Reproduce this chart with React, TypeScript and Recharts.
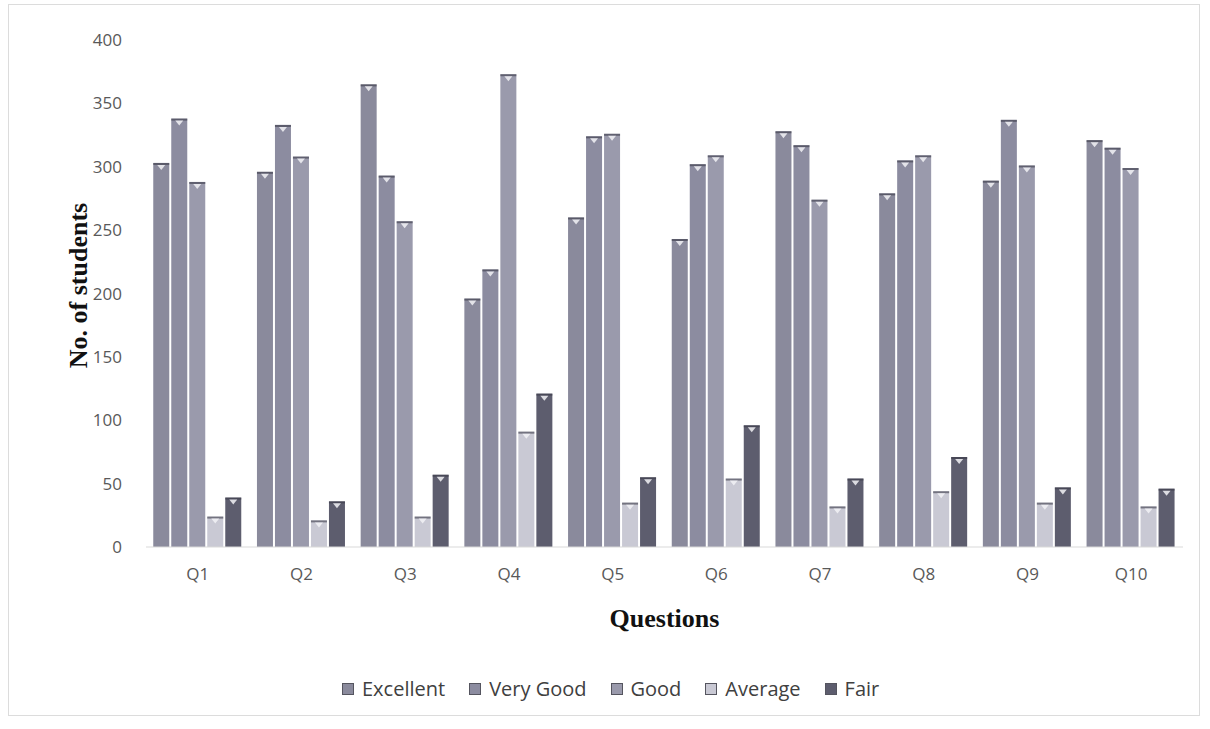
import React from 'react'
import { BarChart, Bar, XAxis, YAxis, Legend } from 'recharts'

const categories = ['Q1', 'Q2', 'Q3', 'Q4', 'Q5', 'Q6', 'Q7', 'Q8', 'Q9', 'Q10']
const excellent = [303, 296, 365, 196, 260, 243, 328, 279, 289, 321]
const veryGood = [338, 333, 293, 219, 324, 302, 317, 305, 337, 315]
const good = [288, 308, 257, 373, 326, 309, 274, 309, 301, 299]
const average = [24, 21, 24, 91, 35, 54, 32, 44, 35, 32]
const fair = [39, 36, 57, 121, 55, 96, 54, 71, 47, 46]
const yTicks = [0, 50, 100, 150, 200, 250, 300, 350, 400]

const series = [
  { key: 'excellent', name: 'Excellent', color: '#8a8a9c' },
  { key: 'veryGood', name: 'Very Good', color: '#8c8ca0' },
  { key: 'good', name: 'Good', color: '#9a9aac' },
  { key: 'average', name: 'Average', color: '#c9c9d4' },
  { key: 'fair', name: 'Fair', color: '#5d5d6e' },
]

const data = categories.map((name, i) => ({
  name,
  excellent: excellent[i],
  veryGood: veryGood[i],
  good: good[i],
  average: average[i],
  fair: fair[i],
}))

const tickStyle = { fill: '#595959', fontSize: 17, fontFamily: 'Open Sans' }
const titleStyle = { fill: '#111', fontSize: 26, fontWeight: 700, fontFamily: 'Liberation Serif' }

// bar with the little "3D" cap that the scanned excel chart shows
function CappedBar(props: any) {
  const { x, y, width, height, fill } = props
  if (!height || height <= 0) return null
  const cx = x + width / 2
  return (
    <g>
      <rect x={x} y={y} width={width} height={height} fill={fill} />
      <rect x={x} y={y} width={width} height={2} fill="#3a3a48" opacity={0.6} />
      <polygon
        points={`${cx - 4},${y + 2} ${cx + 4},${y + 2} ${cx},${y + 7}`}
        fill="#f2f2f6"
        opacity={0.85}
      />
    </g>
  )
}

function LegendContent() {
  return (
    <div style={{ display: 'flex', marginLeft: 342, alignItems: 'center' }}>
      {series.map((s) => (
        <div key={s.key} style={{ display: 'flex', alignItems: 'center', marginRight: 24 }}>
          <span
            style={{
              display: 'inline-block',
              width: 10,
              height: 10,
              background: s.color,
              border: '1px solid #55555f',
              marginRight: 8,
            }}
          />
          <span style={{ fontFamily: 'Open Sans', fontSize: 20, color: '#404040' }}>{s.name}</span>
        </div>
      ))}
    </div>
  )
}

export default function App() {
  return (
    <div style={{ position: 'absolute', left: 0, top: 0, width: 1210, height: 729, background: '#fff' }}>
      <div
        style={{
          position: 'absolute',
          left: 8,
          top: 4,
          width: 1190,
          height: 710,
          border: '1px solid #dcdcdc',
        }}
      />
      <BarChart
        width={1210}
        height={729}
        data={data}
        margin={{ top: 40, right: 27, bottom: 102, left: 10 }}
        barCategoryGap="7%"
        barGap={2}
      >
        <XAxis
          dataKey="name"
          tick={tickStyle}
          tickLine={false}
          tickSize={0}
          tickMargin={21}
          axisLine={{ stroke: '#d9d9d9' }}
          height={80}
          label={{ value: 'Questions', position: 'center', dy: 31, style: titleStyle }}
        />
        <YAxis
          domain={[0, 400]}
          ticks={yTicks}
          tick={tickStyle}
          tickLine={false}
          tickSize={0}
          tickMargin={24}
          axisLine={false}
          width={136}
          label={{ value: 'No. of students', angle: -90, position: 'center', dy: -8, style: titleStyle }}
        />
        <Legend
          verticalAlign="middle"
          align="center"
          layout="horizontal"
          wrapperStyle={{ top: 675, left: 0, width: 1210 }}
          content={<LegendContent />}
        />
        {series.map((s) => (
          <Bar
            key={s.key}
            dataKey={s.key}
            name={s.name}
            fill={s.color}
            shape={<CappedBar />}
            isAnimationActive={false}
          />
        ))}
      </BarChart>
    </div>
  )
}
